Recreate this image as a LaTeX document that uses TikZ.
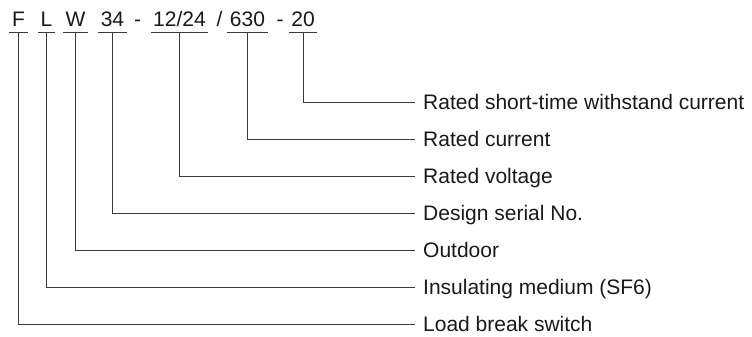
\documentclass[tikz,border=0pt]{standalone}
\usepackage{fontspec}
\setmainfont{Liberation Sans}
\definecolor{leadgray}{HTML}{3A3A3A}
\tikzset{
  leadline/.style={
    draw=leadgray,
    line width=0.9pt
  },
  codepart/.style={
    anchor=base,
    inner xsep=2.5pt,
    inner ysep=0pt,
    text height=15pt,
    text depth=5pt,
    text=black!90,
    font=\fontsize{21}{25}\selectfont,
    append after command={
      (\tikzlastnode.south west) edge[leadline] (\tikzlastnode.south east)
    }
  },
  codesep/.style={
    anchor=base,
    inner sep=0pt,
    text=black!90,
    font=\fontsize{21}{25}\selectfont
  },
  meaning/.style={
    anchor=west,
    inner xsep=8pt,
    inner ysep=0pt,
    text height=15pt,
    text depth=0pt,
    text=black!90,
    font=\fontsize{21}{25}\selectfont
  }
}
\begin{document}
\begin{tikzpicture}[x=1pt,y=1pt]
    \useasboundingbox (0,0) rectangle (752,-337);

    % type code
    \node[codepart] (kind) at (18.5,-27) {F};
    \node[codepart] (medium) at (46.5,-27) {L};
    \node[codepart] (place) at (75.5,-27) {W};
    \node[codepart] (serial) at (112.5,-27) {34};
    \node[codesep] (dashA) at (137.5,-27) {-};
    \node[codepart] (voltage) at (179.5,-27) {12/24};
    \node[codesep] (slash) at (219.5,-27) {/};
    \node[codepart] (current) at (247.5,-27) {630};
    \node[codesep] (dashB) at (280,-27) {-};
    \node[codepart] (shorttime) at (303,-27) {20};

    % meanings
    \node[meaning] (shorttimetxt) at (415,-102) {Rated short-time withstand current};
    \node[meaning] (currenttxt) at (415,-139) {Rated current};
    \node[meaning] (voltagetxt) at (415,-176) {Rated voltage};
    \node[meaning] (serialtxt) at (415,-213) {Design serial No.};
    \node[meaning] (placetxt) at (415,-250) {Outdoor};
    \node[meaning] (mediumtxt) at (415,-287) {Insulating medium (SF6)};
    \node[meaning] (kindtxt) at (415,-324) {Load break switch};

    \draw[leadline] (shorttime.south) |- (shorttimetxt.west);
    \draw[leadline] (current.south) |- (currenttxt.west);
    \draw[leadline] (voltage.south) |- (voltagetxt.west);
    \draw[leadline] (serial.south) |- (serialtxt.west);
    \draw[leadline] (place.south) |- (placetxt.west);
    \draw[leadline] (medium.south) |- (mediumtxt.west);
    \draw[leadline] (kind.south) |- (kindtxt.west);
\end{tikzpicture}
\end{document}
